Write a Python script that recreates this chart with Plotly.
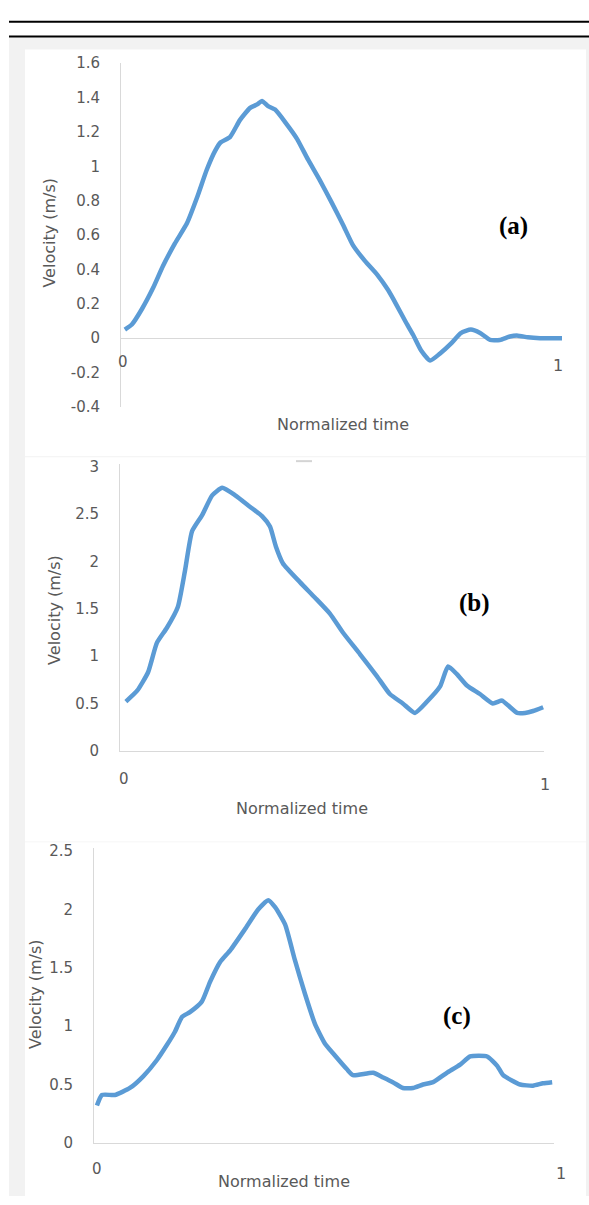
import plotly.graph_objects as go

W, H = 589, 1205

# ---- data: normalized time vs. velocity (m/s) ----
t_a = [0.002, 0.018, 0.041, 0.066, 0.089, 0.116, 0.144, 0.167, 0.189, 0.208,
       0.221, 0.242, 0.265, 0.288, 0.304, 0.315, 0.329, 0.345, 0.370, 0.395,
       0.420, 0.447, 0.474, 0.500, 0.523, 0.550, 0.578, 0.603, 0.623, 0.642,
       0.660, 0.678, 0.699, 0.721, 0.747, 0.769, 0.792, 0.813, 0.836, 0.858,
       0.881, 0.899, 0.922, 0.950, 0.977, 1.000]
v_a = [0.05, 0.08, 0.17, 0.29, 0.42, 0.55, 0.67, 0.82, 0.98, 1.09,
       1.14, 1.17, 1.27, 1.34, 1.36, 1.38, 1.35, 1.33, 1.25, 1.16,
       1.04, 0.92, 0.79, 0.66, 0.54, 0.45, 0.37, 0.28, 0.19, 0.10,
       0.02, -0.07, -0.13, -0.09, -0.03, 0.03, 0.05, 0.03, -0.01, -0.01,
       0.01, 0.015, 0.005, 0.0, 0.0, 0.0]

t_b = [0.002, 0.029, 0.055, 0.076, 0.100, 0.126, 0.143, 0.160, 0.184, 0.208,
       0.232, 0.263, 0.298, 0.327, 0.346, 0.360, 0.377, 0.418, 0.453, 0.489,
       0.520, 0.561, 0.601, 0.632, 0.663, 0.692, 0.721, 0.752, 0.771, 0.792,
       0.816, 0.847, 0.878, 0.900, 0.914, 0.936, 0.955, 0.974, 0.998]
v_b = [0.52, 0.635, 0.83, 1.14, 1.30, 1.52, 1.90, 2.32, 2.49, 2.70,
       2.78, 2.70, 2.58, 2.48, 2.37, 2.16, 1.98, 1.78, 1.62, 1.45,
       1.25, 1.02, 0.79, 0.60, 0.50, 0.40, 0.52, 0.68, 0.89, 0.81,
       0.69, 0.60, 0.50, 0.53, 0.48, 0.40, 0.40, 0.42, 0.46]

t_c = [0.002, 0.013, 0.041, 0.074, 0.103, 0.133, 0.155, 0.172, 0.188, 0.205,
       0.231, 0.249, 0.271, 0.293, 0.325, 0.354, 0.376, 0.391, 0.413, 0.434,
       0.456, 0.478, 0.500, 0.517, 0.548, 0.561, 0.605, 0.627, 0.648, 0.670,
       0.692, 0.714, 0.736, 0.766, 0.795, 0.817, 0.854, 0.876, 0.889, 0.926,
       0.954, 0.976, 0.996]
v_c = [0.32, 0.41, 0.41, 0.47, 0.57, 0.71, 0.84, 0.95, 1.08, 1.12,
       1.21, 1.38, 1.55, 1.65, 1.83, 2.00, 2.08, 2.02, 1.87, 1.57,
       1.28, 1.02, 0.85, 0.77, 0.63, 0.58, 0.60, 0.56, 0.52, 0.47,
       0.47, 0.50, 0.52, 0.60, 0.67, 0.74, 0.74, 0.66, 0.58, 0.50,
       0.49, 0.51, 0.52]

yticks_a = [-0.4, -0.2, 0, 0.2, 0.4, 0.6, 0.8, 1, 1.2, 1.4, 1.6]
ytext_a = ["-0.4", "-0.2", "0", "0.2", "0.4", "0.6", "0.8", "1", "1.2", "1.4", "1.6"]
yticks_b = [0, 0.5, 1, 1.5, 2, 2.5, 3]
ytext_b = ["0", "0.5", "1", "1.5", "2", "2.5", "3"]
yticks_c = [0, 0.5, 1, 1.5, 2, 2.5]
ytext_c = ["0", "0.5", "1", "1.5", "2", "2.5"]

panel_labels = ["(a)", "(b)", "(c)"]
x_title = "Normalized time"
y_title = "Velocity (m/s)"


def px(x):
    return x / W


def py(y):
    return 1 - y / H


LINE = "#5b9bd5"
AX = "#d9d9d9"
TXT = "#595959"
FONT = "DejaVu Sans"

fig = go.Figure()
for i, (t, v) in enumerate([(t_a, v_a), (t_b, v_b), (t_c, v_c)], start=1):
    fig.add_trace(go.Scatter(
        x=t, y=v, mode="lines",
        line=dict(color=LINE, width=4.5, shape="spline", smoothing=0.5),
        xaxis="x" if i == 1 else f"x{i}",
        yaxis="y" if i == 1 else f"y{i}",
        showlegend=False, hoverinfo="skip",
    ))

# panel geometry in pixels: x-axis domain, y-axis domain
geo = {
    1: dict(xd=(121, 562), xr=[-0.0068, 1.0], yd=(55, 404), yr=[-0.4, 1.6]),
    2: dict(xd=(120, 544), xr=[-0.012, 1.0], yd=(462, 753), yr=[0, 3.03]),
    3: dict(xd=(94, 554), xr=[-0.0044, 1.0], yd=(852, 1151), yr=[0, 2.525]),
}
ticks = {1: (yticks_a, ytext_a), 2: (yticks_b, ytext_b), 3: (yticks_c, ytext_c)}

layout = {}
for i, g in geo.items():
    xk = "xaxis" if i == 1 else f"xaxis{i}"
    yk = "yaxis" if i == 1 else f"yaxis{i}"
    ya = "y" if i == 1 else f"y{i}"
    xa = "x" if i == 1 else f"x{i}"
    layout[xk] = dict(
        domain=[px(g["xd"][0]), px(g["xd"][1])], range=g["xr"], anchor=ya,
        showgrid=False, zeroline=False, showticklabels=False, ticks="",
        showline=(i != 1), linecolor=AX, linewidth=1,
    )
    tv, tt = ticks[i]
    layout[yk] = dict(
        domain=[py(g["yd"][1]), py(g["yd"][0])], range=g["yr"], anchor=xa,
        showgrid=False, zeroline=(i == 1), zerolinecolor=AX, zerolinewidth=1,
        showline=True, linecolor=AX, linewidth=1,
        tickvals=tv, ticktext=tt, ticks="", ticklabelstandoff=17,
        tickfont=dict(family=FONT, size=15, color=TXT),
    )

shapes = [
    # page background band and panel cards
    dict(type="rect", xref="paper", yref="paper", x0=px(9), x1=px(589),
         y0=py(1205), y1=py(29), fillcolor="#f2f2f2", line_width=0, layer="below"),
    dict(type="rect", xref="paper", yref="paper", x0=px(25), x1=px(586),
         y0=py(454), y1=py(41), fillcolor="white", line_width=0, layer="below"),
    dict(type="rect", xref="paper", yref="paper", x0=px(25), x1=px(586),
         y0=py(845), y1=py(455), fillcolor="white", line_width=0, layer="below"),
    dict(type="rect", xref="paper", yref="paper", x0=px(25), x1=px(586),
         y0=py(1205), y1=py(846), fillcolor="white", line_width=0, layer="below"),
    # double rule at the top
    dict(type="line", xref="paper", yref="paper", x0=px(9), x1=px(589),
         y0=py(13), y1=py(13), line=dict(color="black", width=2)),
    dict(type="line", xref="paper", yref="paper", x0=px(9), x1=px(589),
         y0=py(28), y1=py(28), line=dict(color="black", width=2)),
    dict(type="line", xref="paper", yref="paper", x0=px(296), x1=px(312),
         y0=py(459), y1=py(459), line=dict(color="#d4d4d4", width=2)),
]

annotations = []


def txt(text, x, y, size=15, color=TXT, family=FONT, angle=0, bold=False):
    annotations.append(dict(
        text=f"<b>{text}</b>" if bold else text, xref="paper", yref="paper",
        x=px(x), y=py(y), xanchor="center", yanchor="middle", showarrow=False,
        textangle=angle, font=dict(family=family, size=size, color=color),
    ))


# x tick labels and axis titles
for (x0, y0), (x1, y1), (tx, ty), (vx, vy) in [
    ((123, 358), (558, 362), (343, 422), (50, 227)),
    ((124, 782), (545, 787), (302, 812), (55, 610)),
    ((97, 1178), (561, 1182), (284, 1190), (35, 1000)),
]:
    txt("0", x0, y0)
    txt("1", x1, y1, size=16)
    txt(x_title, tx, ty, size=16)
    txt(y_title, vx, vy, size=16, angle=-90)

for lab, (lx, ly) in zip(panel_labels, [(513, 220), (475, 603), (457, 1022)]):
    txt(lab, lx, ly, size=25, color="black", family="Liberation Serif", bold=True)

fig.update_layout(
    width=W, height=H, margin=dict(l=0, r=0, t=0, b=0),
    paper_bgcolor="white", plot_bgcolor="rgba(0,0,0,0)",
    shapes=shapes, annotations=annotations, **layout,
)

fig.write_html("out.html")
